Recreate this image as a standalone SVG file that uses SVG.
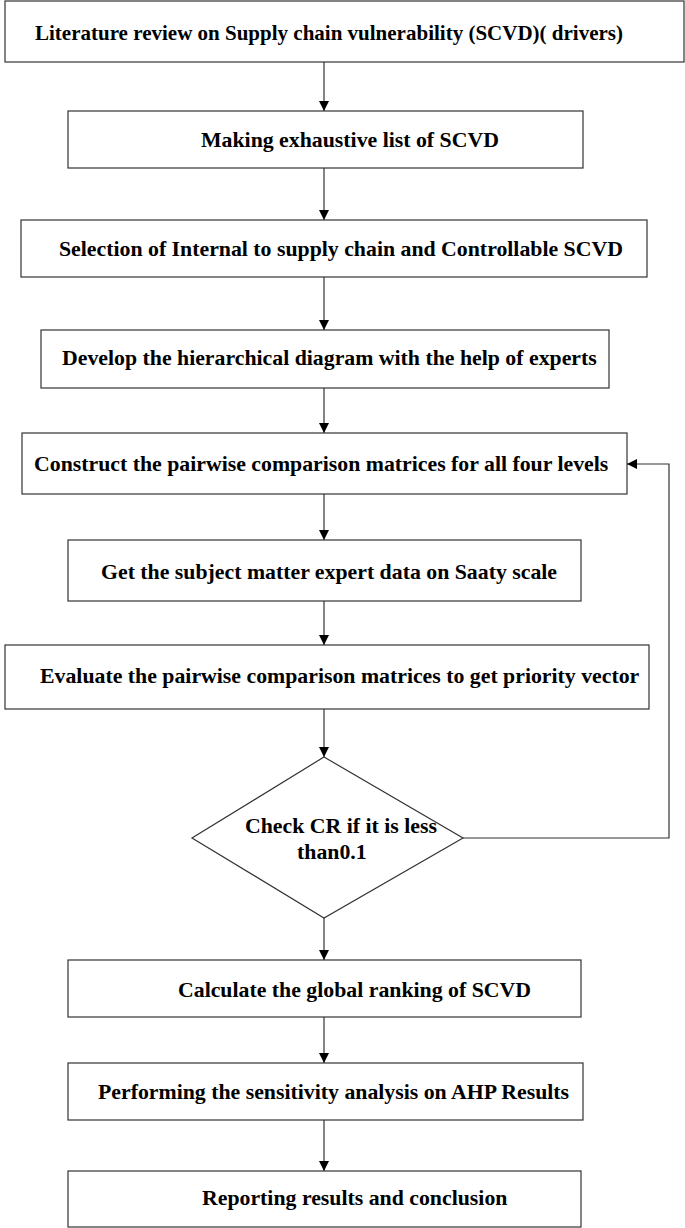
<svg xmlns="http://www.w3.org/2000/svg" width="685" height="1228" viewBox="0 0 685 1228">
<defs>
<marker id="ah" viewBox="0 0 10 10" refX="10" refY="5" markerWidth="10" markerHeight="10" markerUnits="userSpaceOnUse" orient="auto">
<path d="M0,0 L10,5 L0,10 Z" fill="#000"/>
</marker>
<style>
.box{fill:#fff;stroke:#333;stroke-width:1.2}
.t{font-family:"Liberation Serif","Times New Roman",serif;font-weight:bold;font-size:21.8px;fill:#000}
.c{fill:none;stroke:#333;stroke-width:1.2;marker-end:url(#ah)}
</style>
</defs>
<rect width="685" height="1228" fill="#fff"/>
<g id="connectors">
<line class="c" x1="324" y1="62" x2="324" y2="111"/>
<line class="c" x1="324" y1="168" x2="324" y2="220"/>
<line class="c" x1="324" y1="277" x2="324" y2="330"/>
<line class="c" x1="324" y1="388" x2="324" y2="433"/>
<line class="c" x1="324" y1="494" x2="324" y2="540"/>
<line class="c" x1="324" y1="601" x2="324" y2="645"/>
<line class="c" x1="324" y1="709" x2="324" y2="757"/>
<polyline class="c" points="463,838 669,838 669,464 627,464"/>
<line class="c" x1="324" y1="918" x2="324" y2="960"/>
<line class="c" x1="324" y1="1017" x2="324" y2="1063"/>
<line class="c" x1="324" y1="1120" x2="324" y2="1171"/>
</g>
<g id="n1"><rect class="box" x="5" y="1" width="679" height="61"/><text class="t" x="35" y="40" textLength="588" lengthAdjust="spacingAndGlyphs">Literature review on Supply chain vulnerability (SCVD)( drivers)</text></g>
<g id="n2"><rect class="box" x="68" y="111" width="515" height="57"/><text class="t" x="201" y="147">Making exhaustive list of SCVD</text></g>
<g id="n3"><rect class="box" x="21" y="220" width="626" height="57"/><text class="t" x="59" y="256">Selection of Internal to supply chain and Controllable SCVD</text></g>
<g id="n4"><rect class="box" x="41" y="330" width="568" height="58"/><text class="t" x="62" y="365">Develop the hierarchical diagram with the help of experts</text></g>
<g id="n5"><rect class="box" x="22" y="433" width="605" height="61"/><text class="t" x="34" y="471">Construct the pairwise comparison matrices for all four levels</text></g>
<g id="n6"><rect class="box" x="68" y="540" width="513" height="61"/><text class="t" x="101" y="579">Get the subject matter expert data on Saaty scale</text></g>
<g id="n7"><rect class="box" x="5" y="645" width="644" height="64"/><text class="t" x="40" y="683">Evaluate the pairwise comparison matrices to get priority vector</text></g>
<g id="n8"><polygon class="box" points="324,757 463,838 324,918 192,838"/><text class="t" x="245" y="833">Check CR if it is less</text><text class="t" x="297" y="859">than0.1</text></g>
<g id="n9"><rect class="box" x="68" y="960" width="513" height="57"/><text class="t" x="178" y="997">Calculate the global ranking of SCVD</text></g>
<g id="n10"><rect class="box" x="68" y="1063" width="515" height="57"/><text class="t" x="98" y="1099">Performing the sensitivity analysis on AHP Results</text></g>
<g id="n11"><rect class="box" x="68" y="1171" width="513" height="56"/><text class="t" x="202" y="1205">Reporting results and conclusion</text></g>
</svg>
